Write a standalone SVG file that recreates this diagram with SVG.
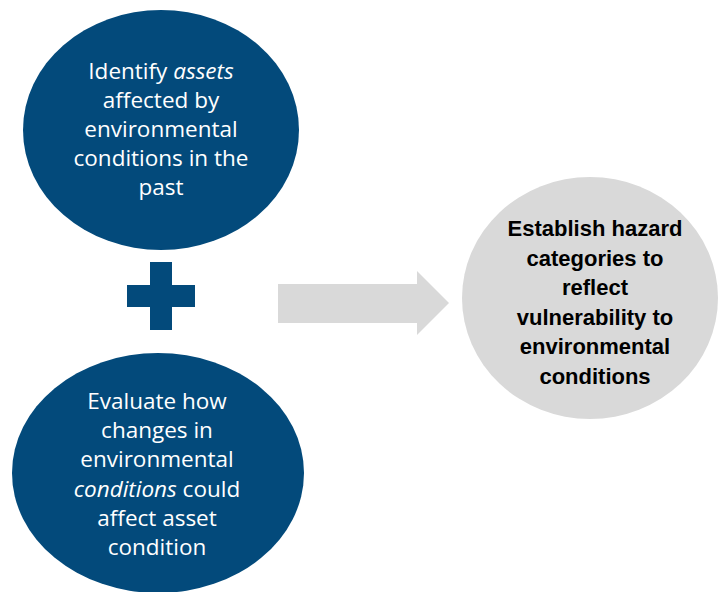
<svg xmlns="http://www.w3.org/2000/svg" width="719" height="592" viewBox="0 0 719 592">
<style>
.blue{fill:#034a7b}
.gray{fill:#d9d9d9}
.wt{font-family:"Open Sans","Liberation Sans",Arial,sans-serif;font-size:22.5px;fill:#ffffff;text-anchor:middle}
.bt{font-family:"Liberation Sans",Arial,sans-serif;font-size:22px;font-weight:bold;fill:#000000;text-anchor:middle}
</style>
<rect width="719" height="592" fill="#ffffff"/>
<g id="node-identify">
<ellipse class="blue" cx="161" cy="130" rx="138" ry="120"/>
<text class="wt"><tspan x="161" y="79">Identify <tspan font-style="italic">assets</tspan></tspan><tspan x="161" y="108">affected by</tspan><tspan x="161" y="137">environmental</tspan><tspan x="161" y="166">conditions in the</tspan><tspan x="161" y="195">past</tspan></text>
</g>
<g id="node-plus">
<rect class="blue" x="150" y="262" width="22" height="68"/>
<rect class="blue" x="127" y="285" width="68" height="22"/>
</g>
<g id="node-evaluate">
<ellipse class="blue" cx="158" cy="473" rx="146" ry="120"/>
<text class="wt"><tspan x="157" y="409">Evaluate how</tspan><tspan x="157" y="438">changes in</tspan><tspan x="157" y="467">environmental</tspan><tspan x="157" y="497"><tspan font-style="italic">conditions</tspan> could</tspan><tspan x="157" y="526">affect asset</tspan><tspan x="157" y="555">condition</tspan></text>
</g>
<g id="connectors">
<polygon class="gray" points="278,284 417,284 417,271 449,303 417,335 417,323 278,323"/>
</g>
<g id="node-establish">
<ellipse class="gray" cx="590" cy="298" rx="128" ry="121"/>
<text class="bt"><tspan x="595" y="236">Establish hazard</tspan><tspan x="595" y="265.5">categories to</tspan><tspan x="595" y="295">reflect</tspan><tspan x="595" y="324.5">vulnerability to</tspan><tspan x="595" y="354">environmental</tspan><tspan x="595" y="383.5">conditions</tspan></text>
</g>
</svg>
